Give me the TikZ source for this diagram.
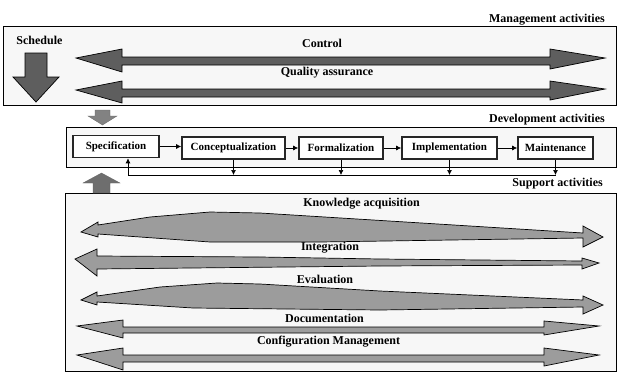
\documentclass[tikz,border=0pt]{standalone}
\usepackage{fontspec}
\setmainfont{Liberation Serif}
\usetikzlibrary{arrows.meta,calc}
\definecolor{boxbg}{HTML}{F7F7F7}
\definecolor{darkarr}{HTML}{5E5E5E}
\definecolor{lightarr}{HTML}{9C9C9C}
\definecolor{blockdown}{HTML}{828282}
\definecolor{blockup}{HTML}{6E6E6E}
\begin{document}
\begin{tikzpicture}[x=1pt,y=-1pt,
  lbl/.style={font=\fontsize{12}{14}\selectfont\bfseries, inner sep=0pt},
  panel/.style={draw=black, line width=0.9pt, fill=boxbg, inner sep=0pt},
  stage/.style={draw=black!85, line width=1.6pt, fill=white, font=\fontsize{11}{13}\selectfont\bfseries, inner sep=0pt, minimum height=22pt},
  flow/.style={-{Latex[length=5pt,width=5pt]}, line width=0.7pt},
  mgarrow/.style={draw=black, line width=0.7pt, fill=darkarr, line join=miter},
  sparrow/.style={draw=black, line width=0.7pt, fill=lightarr},
  blockarrow/.style={draw=black!60, line width=0.3pt}
]
\useasboundingbox (0,0) rectangle (625,384);
\fill[white] (0,0) rectangle (625,384);

% panels
\node[panel, minimum width=613pt, minimum height=79pt] (mgmt) at (309.5,65.5) {};
\node[panel, minimum width=550pt, minimum height=40pt] (dev) at (341,147) {};
\node[panel, minimum width=551pt, minimum height=178pt] (sup) at (340.5,282) {};

% panel titles
\node[lbl, anchor=east] (mlab) at (605,19.5) {Management activities};
\node[lbl, anchor=east] (dlab) at (605,120) {Development activities};
\node[lbl, anchor=east] (slab) at (603,184) {Support activities};

% management content
\node[lbl] (sched) at (39.5,40) {Schedule};
\draw[mgarrow] (25,53) -- (47,53) -- (47,77) -- (59,77) -- (36,102) -- (13,77) -- (25,77) -- cycle;

\draw[mgarrow] (76,58) -- (122,49) -- (122,57) -- (550,57) -- (550,49) -- (605,58) -- (550,69) -- (550,65) -- (122,65) -- (122,72) -- cycle;
\node[lbl] (ctrl) at (322,43) {Control};

\draw[mgarrow] (76,90) -- (122,81) -- (122,89) -- (550,89) -- (550,81) -- (605,89) -- (550,100) -- (550,97) -- (122,97) -- (122,103) -- cycle;
\node[lbl] (qa) at (327,73) {Quality assurance};

% block arrows between panels
\fill[blockdown, blockarrow] (95,110) -- (110,110) -- (110,116) -- (117,116) -- (102.5,125) -- (88,116) -- (95,116) -- cycle;
\fill[blockup, blockarrow] (93,193) -- (110,193) -- (110,183) -- (120,183) -- (101.5,173) -- (83,183) -- (93,183) -- cycle;

% development stages
\node[stage, minimum width=86pt] (spec) at (116,146.5) {Specification};
\node[stage, minimum width=103pt] (conc) at (233.5,148) {Conceptualization};
\node[stage, minimum width=84pt] (form) at (341,148) {Formalization};
\node[stage, minimum width=95pt] (impl) at (449.5,148) {Implementation};
\node[stage, minimum width=75pt] (maint) at (555.5,148) {Maintenance};

\draw[flow] (spec.east) -- (spec.east -| conc.west);
\draw[flow] (conc.east) -- (form.west);
\draw[flow] (form.east) -- (impl.west);
\draw[flow] (impl.east) -- (maint.west);

\coordinate (fbL) at (128,175);
\draw[line width=0.7pt] (fbL) -- (maint.south |- fbL);
\draw[flow] (conc.south) -- (conc.south |- fbL);
\draw[flow] (form.south) -- (form.south |- fbL);
\draw[flow] (impl.south) -- (impl.south |- fbL);
\draw[flow] (maint.south) -- (maint.south |- fbL);
\draw[flow] (fbL) -- (fbL |- spec.south);

% support arrows
\draw[sparrow] (81,232) -- (98,222) -- (98,225) -- (150,217) -- (210,212) -- (260,213) -- (583,233) -- (583,226) -- (603,237) -- (583,247) -- (583,238) -- (320,242) -- (210,242) -- (98,234) -- (98,237) -- cycle;
\node[lbl] (ka) at (361.5,204) {Knowledge acquisition};

\draw[sparrow] (75,259) -- (97,249) -- (97,256) -- (260,257) -- (380,259) -- (582,261) -- (582,258) -- (599,263) -- (582,269) -- (582,265) -- (380,266) -- (97,269) -- (97,276) -- cycle;
\node[lbl] (integ) at (330,248) {Integration};

\draw[sparrow] (81,300) -- (97,292) -- (97,296) -- (160,287) -- (217,283) -- (260,284) -- (380,291) -- (583,300) -- (583,296) -- (603,305) -- (583,314) -- (583,307) -- (380,310) -- (193,308) -- (97,302) -- (97,305) -- cycle;
\node[lbl] (eval) at (325,279) {Evaluation};

\draw[sparrow] (77,326) -- (123,320) -- (123,327) -- (544,327) -- (544,321) -- (599,326) -- (544,335) -- (544,333) -- (123,333) -- (123,338) -- cycle;
\node[lbl] (doc) at (324.5,318) {Documentation};

\draw[sparrow] (77,355) -- (123,348) -- (123,355) -- (544,355) -- (544,348) -- (599,355) -- (544,366) -- (544,362) -- (123,362) -- (123,370) -- cycle;
\node[lbl] (cm) at (328.5,342) {Configuration Management};
\end{tikzpicture}
\end{document}
